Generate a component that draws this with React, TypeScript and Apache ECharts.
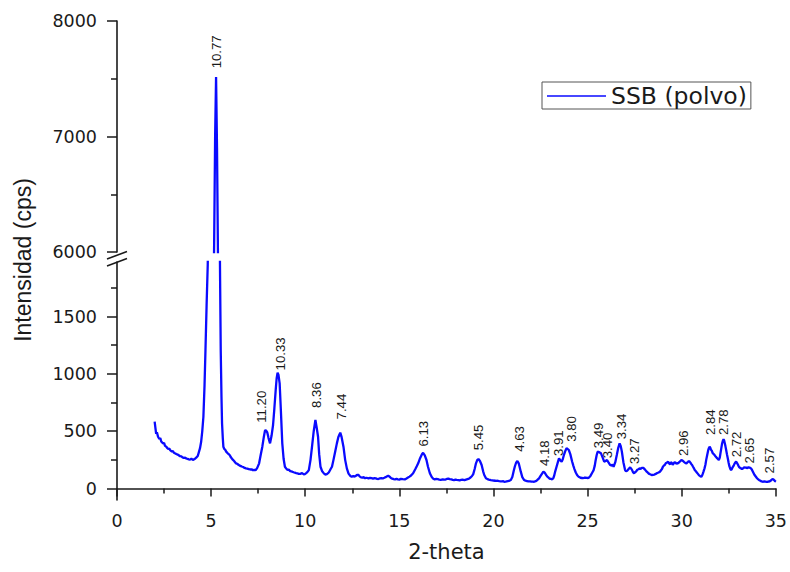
import React, { useEffect, useRef } from "react";
import * as echarts from "echarts";

const seriesName = "SSB (polvo)";
const xTitle = "2-theta";
const yTitle = "Intensidad (cps)";

// [2θ, cps], split into ranges
const scanA: [number, number][] = [
  [2.0, 583], [2.04, 530], [2.08, 478], [2.12, 490], [2.18, 452], [2.25, 432], [2.3, 440], [2.35, 410],
  [2.45, 392], [2.5, 398], [2.55, 372], [2.62, 365], [2.68, 352], [2.72, 345], [2.78, 350], [2.82, 335],
  [2.92, 322], [2.97, 328], [3.02, 312], [3.1, 306], [3.15, 301], [3.22, 296], [3.28, 290], [3.35, 282],
  [3.42, 280], [3.48, 272], [3.55, 268], [3.62, 270], [3.68, 262], [3.75, 258], [3.82, 254], [3.88, 252],
  [3.95, 260], [4.03, 249], [4.1, 256], [4.16, 262], [4.22, 272], [4.29, 284], [4.35, 318], [4.41, 352],
  [4.47, 408], [4.53, 500], [4.59, 626], [4.65, 900], [4.7, 1208], [4.76, 1600], [4.82, 1950], [4.9, 2800],
  [5.0, 4200], [5.08, 5400], [5.13, 6100], [5.18, 7000], [5.23, 7515], [5.28, 6900], [5.33, 5970], [5.38, 4600],
  [5.43, 3000], [5.47, 1950], [5.51, 1208], [5.55, 800], [5.58, 569], [5.62, 440], [5.65, 365], [5.7, 345],
  [5.75, 338], [5.8, 322], [5.88, 307], [5.95, 298], [6.0, 288], [6.05, 272], [6.1, 262], [6.15, 252],
  [6.22, 240], [6.28, 228], [6.32, 220], [6.38, 216], [6.45, 208], [6.52, 200], [6.58, 196], [6.62, 192],
  [6.7, 188], [6.78, 180], [6.85, 176], [6.92, 174], [7.0, 170], [7.08, 166], [7.15, 168], [7.22, 160],
  [7.3, 163], [7.37, 161], [7.45, 180], [7.55, 220], [7.63, 290], [7.72, 365], [7.8, 450], [7.86, 505],
  [7.9, 510], [7.95, 498], [7.98, 490], [8.05, 440], [8.13, 394], [8.21, 460], [8.29, 554], [8.36, 700],
  [8.43, 859], [8.48, 960], [8.53, 1010], [8.58, 990], [8.64, 918], [8.7, 700], [8.78, 394], [8.85, 260],
  [8.92, 190], [9.0, 172], [9.06, 162], [9.12, 166], [9.2, 152], [9.26, 150], [9.31, 147], [9.38, 142],
  [9.45, 138], [9.52, 135], [9.58, 133], [9.65, 128], [9.75, 127], [9.8, 135], [9.85, 132], [9.92, 124],
  [9.98, 126], [10.05, 135], [10.12, 145], [10.19, 161], [10.28, 250], [10.36, 365], [10.45, 500], [10.54, 598],
  [10.6, 540], [10.68, 452], [10.74, 300], [10.81, 190], [10.9, 150], [11.0, 130], [11.07, 122], [11.15, 125],
  [11.25, 140], [11.35, 170], [11.42, 190], [11.5, 250], [11.6, 330], [11.68, 394], [11.76, 450], [11.86, 487],
  [11.93, 450], [12.03, 365], [12.12, 250], [12.21, 176], [12.3, 130], [12.4, 110], [12.47, 103], [12.55, 110],
];

const scanB: [number, number][] = [
  [12.62, 104], [12.7, 112], [12.75, 120], [12.83, 118], [12.9, 104], [12.96, 98], [13.04, 95], [13.1, 99],
  [13.18, 90], [13.26, 94], [13.36, 89], [13.44, 93], [13.52, 90], [13.6, 86], [13.68, 90], [13.75, 88],
  [13.82, 84], [13.88, 83], [13.96, 88], [14.04, 90], [14.12, 88], [14.2, 94], [14.3, 102], [14.41, 112],
  [14.48, 104], [14.55, 92], [14.62, 86], [14.7, 82], [14.77, 80], [14.85, 84], [14.92, 80], [15.0, 78],
  [15.08, 84], [15.18, 82], [15.29, 80], [15.38, 88], [15.46, 96], [15.54, 104], [15.62, 114], [15.73, 133],
  [15.85, 170], [15.93, 196], [16.0, 220], [16.1, 265], [16.2, 300], [16.26, 312], [16.35, 290], [16.44, 249],
  [16.52, 190], [16.62, 133], [16.72, 100], [16.8, 86], [16.88, 80], [16.96, 84], [17.04, 82], [17.12, 78],
  [17.2, 76], [17.3, 80], [17.38, 77], [17.45, 78], [17.52, 84], [17.6, 86], [17.68, 82], [17.76, 80],
  [17.84, 76], [17.9, 74], [17.98, 78], [18.05, 76], [18.14, 74], [18.2, 72], [18.28, 76], [18.35, 78],
  [18.46, 74], [18.54, 78], [18.62, 82], [18.7, 86], [18.78, 96], [18.86, 110], [18.92, 124], [19.0, 170],
  [19.07, 220], [19.14, 250], [19.2, 257], [19.28, 240], [19.37, 205], [19.45, 150], [19.51, 118], [19.6, 90],
  [19.68, 82], [19.75, 78], [19.86, 74], [19.94, 72], [20.0, 70], [20.08, 68], [20.15, 66], [20.22, 68],
  [20.3, 64], [20.38, 63], [20.45, 62], [20.52, 64], [20.57, 59], [20.64, 60], [20.7, 62], [20.76, 64],
  [20.82, 66], [20.92, 74], [21.0, 100], [21.07, 150], [21.13, 190], [21.2, 225], [21.27, 240], [21.34, 220],
  [21.45, 147], [21.53, 100], [21.63, 74], [21.7, 68], [21.78, 65], [21.86, 62], [21.94, 63], [22.02, 60],
  [22.1, 61], [22.16, 59], [22.24, 64], [22.3, 70], [22.36, 80], [22.42, 89], [22.5, 110], [22.58, 130],
  [22.65, 147], [22.72, 138], [22.8, 118], [22.86, 103], [22.94, 92], [23.0, 85], [23.06, 84], [23.12, 80],
];

const scanC: [number, number][] = [
  [23.18, 92], [23.22, 110], [23.28, 150], [23.35, 190], [23.42, 230], [23.48, 263], [23.55, 245], [23.62, 234],
  [23.68, 255], [23.74, 292], [23.82, 330], [23.88, 351], [23.94, 345], [24.0, 336], [24.08, 300], [24.18, 234],
  [24.24, 200], [24.3, 170], [24.37, 140], [24.44, 118], [24.5, 106], [24.55, 100], [24.62, 94], [24.7, 92],
  [24.75, 90], [24.82, 94], [24.9, 96], [24.98, 92], [25.06, 94], [25.15, 110], [25.25, 140], [25.32, 161],
  [25.38, 200], [25.42, 240], [25.48, 290], [25.53, 321], [25.6, 318], [25.66, 312], [25.71, 307], [25.8, 270],
  [25.88, 234], [25.96, 240], [26.03, 249], [26.1, 230], [26.2, 205], [26.28, 200], [26.33, 210], [26.38, 190],
  [26.47, 230], [26.55, 292], [26.62, 350], [26.7, 394], [26.76, 370], [26.82, 321], [26.9, 230], [26.99, 161],
  [27.04, 150], [27.1, 155], [27.18, 170], [27.26, 185], [27.35, 165], [27.42, 140], [27.47, 133], [27.52, 142],
  [27.58, 150], [27.64, 164], [27.7, 168], [27.76, 175], [27.82, 172], [27.88, 180], [27.96, 180], [28.05, 165],
  [28.14, 147], [28.2, 138], [28.25, 130], [28.32, 124], [28.4, 118], [28.48, 120], [28.55, 122], [28.62, 128],
  [28.7, 135], [28.77, 140], [28.84, 147], [28.9, 160], [28.95, 170], [29.0, 190], [29.05, 200], [29.1, 205],
  [29.15, 220], [29.2, 225], [29.28, 234], [29.33, 218], [29.38, 210], [29.42, 228], [29.47, 225], [29.52, 208],
  [29.55, 214], [29.6, 226], [29.65, 230], [29.72, 215], [29.76, 222], [29.81, 220], [29.86, 230], [29.9, 235],
  [29.98, 249], [30.03, 244], [30.07, 240], [30.12, 232], [30.15, 228], [30.2, 222], [30.25, 220], [30.3, 228],
  [30.33, 232], [30.38, 240], [30.42, 234], [30.46, 226], [30.5, 215], [30.55, 205], [30.6, 190], [30.65, 176],
  [30.69, 161], [30.75, 150], [30.8, 140], [30.86, 128], [30.92, 115], [30.98, 108], [31.04, 103], [31.08, 112],
  [31.12, 130], [31.16, 150], [31.21, 176], [31.26, 210], [31.3, 250], [31.35, 290], [31.4, 330], [31.44, 352],
  [31.48, 365], [31.52, 355], [31.55, 340], [31.6, 328], [31.64, 310], [31.7, 300], [31.74, 292], [31.8, 280],
  [31.85, 270], [31.92, 258], [31.97, 249], [32.02, 270], [32.05, 300], [32.1, 350], [32.14, 390], [32.18, 415],
  [32.22, 429], [32.25, 420], [32.28, 400], [32.32, 370], [32.36, 336], [32.4, 300], [32.45, 260], [32.49, 225],
  [32.53, 195], [32.58, 172], [32.62, 161], [32.66, 170], [32.7, 185], [32.76, 200], [32.8, 215], [32.85, 228],
  [32.89, 234], [32.94, 222], [32.98, 210], [33.02, 196], [33.06, 185], [33.1, 180], [33.15, 176], [33.2, 170],
  [33.25, 175], [33.3, 182], [33.34, 185], [33.38, 180], [33.42, 185], [33.46, 178], [33.5, 180], [33.55, 186],
  [33.6, 182], [33.64, 180], [33.68, 176], [33.74, 160], [33.8, 140], [33.86, 120], [33.94, 103], [34.0, 90],
  [34.05, 82], [34.1, 75], [34.18, 68], [34.24, 62], [34.3, 59], [34.38, 62], [34.45, 60], [34.5, 58],
  [34.55, 58], [34.6, 62], [34.65, 60], [34.7, 66], [34.75, 72], [34.82, 83], [34.88, 78], [34.92, 72],
  [34.96, 64], [35.0, 59],
];

// d-spacing annotations: text, label anchor (2θ, cps)
const peakTexts = ["11.20", "10.33", "8.36", "7.44", "6.13", "5.45", "4.63", "4.18", "3.91", "3.80", "3.49", "3.40", "3.34", "3.27", "2.96", "2.84", "2.78", "2.72", "2.65", "2.57"];
const peakTheta = [7.7, 8.66, 10.62, 11.95, 16.26, 19.2, 21.36, 22.71, 23.47, 24.12, 25.59, 26.06, 26.82, 27.49, 30.11, 31.51, 32.22, 32.89, 33.59, 34.68];
const peakCps = [574, 1030, 703, 603, 366, 334, 320, 196, 283, 408, 351, 264, 429, 214, 283, 467, 467, 272, 219, 132];
const mainPeakText = "10.77";
const mainPeakTheta = 5.23;
const mainPeakCps = 7590;

const upperTicks = { min: 6000, max: 8000, step: 1000 };
const lowerRange = { min: -100, max: 1976 };
const lowerMajor = [0, 500, 1000, 1500];
const lowerMinor = [250, 750, 1250, 1750];
const xRange = { min: 0, max: 35, step: 5 };

export default function App() {
  const ref = useRef<HTMLDivElement>(null);
  useEffect(() => {
    if (!ref.current) return;
    const chart = echarts.init(ref.current, undefined, { renderer: "svg" });
    const ink = "#1a1a1a";
    const axisLine = { show: true, lineStyle: { color: ink, width: 1.6 } };
    const plain = (v: number) => String(v);
    const tickFont = { fontFamily: "DejaVu Sans", fontSize: 17.5, color: ink, formatter: plain };
    const blue = "#0a0aff";
    const scan = [...scanA, ...scanB, ...scanC];
    const lowerLabels = peakTexts.map((t, i) => [peakTheta[i], peakCps[i], t]);
    const labelCfg = {
      show: true,
      position: "inside",
      rotate: 90,
      align: "left",
      verticalAlign: "middle",
      fontFamily: "Liberation Sans",
      fontSize: 13.2,
      color: ink,
      opacity: 1,
      formatter: (p: any) => p.value[2],
    };
    chart.setOption({
      animation: false,
      backgroundColor: "#ffffff",
      grid: [
        { left: 117, right: 10, top: 21, height: 231 },
        { left: 117, right: 10, top: 262, height: 238 },
      ],
      legend: {
        data: [seriesName],
        left: 542,
        top: 82,
        icon: "rect",
        itemWidth: 59,
        itemHeight: 1.6,
        borderColor: "#555",
        borderWidth: 1,
        borderRadius: 0,
        padding: [2, 4, 1, 5],
        textStyle: { fontFamily: "DejaVu Sans", fontSize: 23.5, color: ink },
      },
      xAxis: [
        { gridIndex: 0, type: "value", min: xRange.min, max: xRange.max, show: false },
        {
          gridIndex: 1,
          type: "value",
          min: xRange.min,
          max: xRange.max,
          interval: xRange.step,
          axisLine,
          axisTick: { show: true, length: 8, lineStyle: { color: ink, width: 1.5 } },
          minorTick: { show: true, splitNumber: 2, length: 5, lineStyle: { color: ink, width: 1.5 } },
          axisLabel: { ...tickFont, margin: 12 },
          splitLine: { show: false },
          name: xTitle,
          nameLocation: "middle",
          nameGap: 41,
          nameTextStyle: { fontFamily: "DejaVu Sans", fontSize: 21, color: ink },
        },
      ],
      yAxis: [
        {
          gridIndex: 0,
          type: "value",
          min: upperTicks.min,
          max: upperTicks.max,
          interval: upperTicks.step,
          axisLine,
          axisTick: { show: true, length: 10, lineStyle: { color: ink, width: 1.5 } },
          minorTick: { show: true, splitNumber: 2, length: 6, lineStyle: { color: ink, width: 1.5 } },
          axisLabel: { ...tickFont, margin: 20 },
          splitLine: { show: false },
        },
        {
          gridIndex: 1,
          type: "value",
          min: lowerRange.min,
          max: lowerRange.max,
          axisLine,
          axisTick: { show: true, length: 10, customValues: lowerMajor, lineStyle: { color: ink, width: 1.5 } },
          axisLabel: { ...tickFont, margin: 20, customValues: lowerMajor },
          splitLine: { show: false },
        },
        {
          gridIndex: 1,
          type: "value",
          position: "left",
          offset: 0,
          min: lowerRange.min,
          max: lowerRange.max,
          axisLine: { show: false },
          axisTick: { show: true, length: 6, customValues: lowerMinor, lineStyle: { color: ink, width: 1.5 } },
          axisLabel: { show: false, customValues: lowerMinor },
          splitLine: { show: false },
        },
      ],
      series: [
        {
          name: seriesName,
          type: "line",
          xAxisIndex: 0,
          yAxisIndex: 0,
          data: scan,
          showSymbol: false,
          symbol: "none",
          color: blue,
          lineStyle: { color: blue, width: 2.3 },
        },
        {
          name: seriesName,
          type: "line",
          xAxisIndex: 1,
          yAxisIndex: 1,
          data: scan,
          showSymbol: false,
          symbol: "none",
          color: blue,
          lineStyle: { color: blue, width: 2.3 },
        },
        {
          name: "d-lower",
          type: "scatter",
          xAxisIndex: 1,
          yAxisIndex: 1,
          symbolSize: 1,
          itemStyle: { color: "rgba(0,0,0,0)" },
          silent: true,
          data: lowerLabels,
          label: labelCfg,
          labelLayout: { hideOverlap: false },
        },
        {
          name: "d-upper",
          type: "scatter",
          xAxisIndex: 0,
          yAxisIndex: 0,
          symbolSize: 1,
          itemStyle: { color: "rgba(0,0,0,0)" },
          silent: true,
          data: [[mainPeakTheta, mainPeakCps, mainPeakText]],
          label: labelCfg,
        },
      ],
      graphic: [
        {
          type: "text",
          x: 23,
          y: 260,
          rotation: Math.PI / 2,
          style: {
            text: yTitle,
            fontFamily: "Liberation Sans",
            fontSize: 23,
            fill: ink,
            align: "center",
            verticalAlign: "middle",
          },
        },
        { type: "line", shape: { x1: 107, y1: 259, x2: 127, y2: 251.5 }, style: { stroke: ink, lineWidth: 1.6 } },
        { type: "line", shape: { x1: 107, y1: 266, x2: 127, y2: 258.5 }, style: { stroke: ink, lineWidth: 1.6 } },
      ],
    });
    return () => chart.dispose();
  }, []);
  return (
    <div
      ref={ref}
      style={{ position: "fixed", left: 0, top: 0, width: 790, height: 572, background: "#fff" }}
    />
  );
}
